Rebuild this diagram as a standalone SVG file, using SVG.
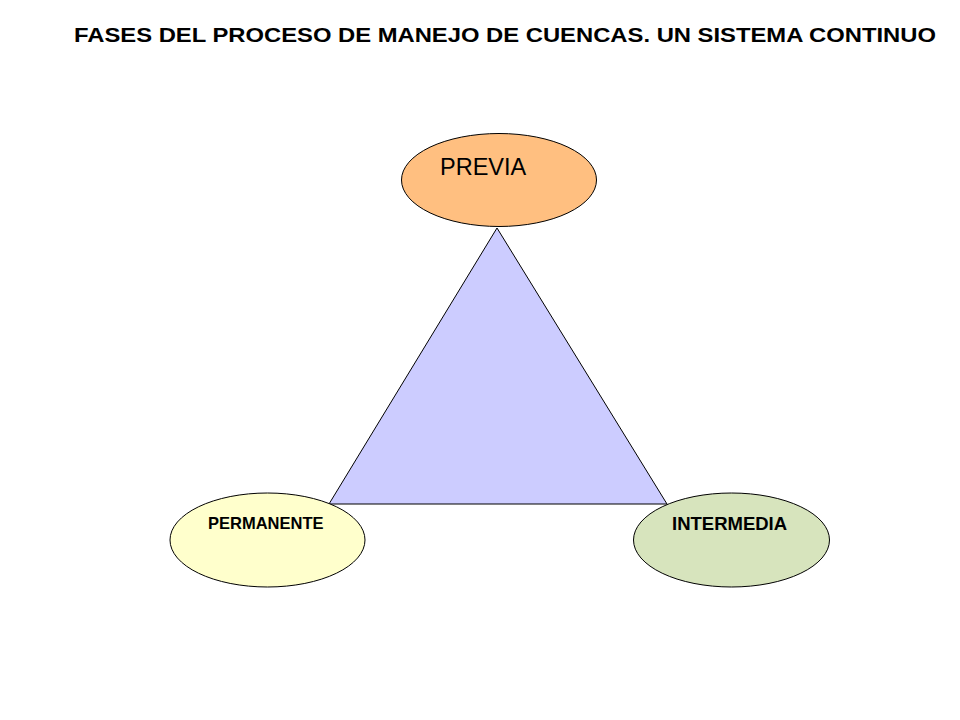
<svg xmlns="http://www.w3.org/2000/svg" width="960" height="720" viewBox="0 0 960 720">
<style>
.shape{stroke:#000;stroke-width:1}
.t{font-family:"Liberation Sans",Arial,sans-serif;fill:#000}
.b{font-weight:bold}
</style>
<rect width="960" height="720" fill="#fff"/>
<text class="t b" x="74" y="42" font-size="19.5" textLength="862" lengthAdjust="spacingAndGlyphs">FASES DEL PROCESO DE MANEJO DE CUENCAS. UN SISTEMA CONTINUO</text>
<g id="connectors">
<polygon id="triangle" class="shape" points="497,228 329,504 667,504" fill="#CCCCFF"/>
</g>
<g id="previa">
<ellipse class="shape" cx="499" cy="180" rx="97.5" ry="46.5" fill="#FFBF80"/>
<text class="t" x="440" y="175" font-size="23.5">PREVIA</text>
</g>
<g id="permanente">
<ellipse class="shape" cx="267.5" cy="540" rx="97.5" ry="47" fill="#FFFFCC"/>
<text class="t b" x="208" y="529" font-size="16.5">PERMANENTE</text>
</g>
<g id="intermedia">
<ellipse class="shape" cx="731.5" cy="540" rx="98" ry="47" fill="#D7E4BD"/>
<text class="t b" x="672" y="530" font-size="18.5">INTERMEDIA</text>
</g>
</svg>
